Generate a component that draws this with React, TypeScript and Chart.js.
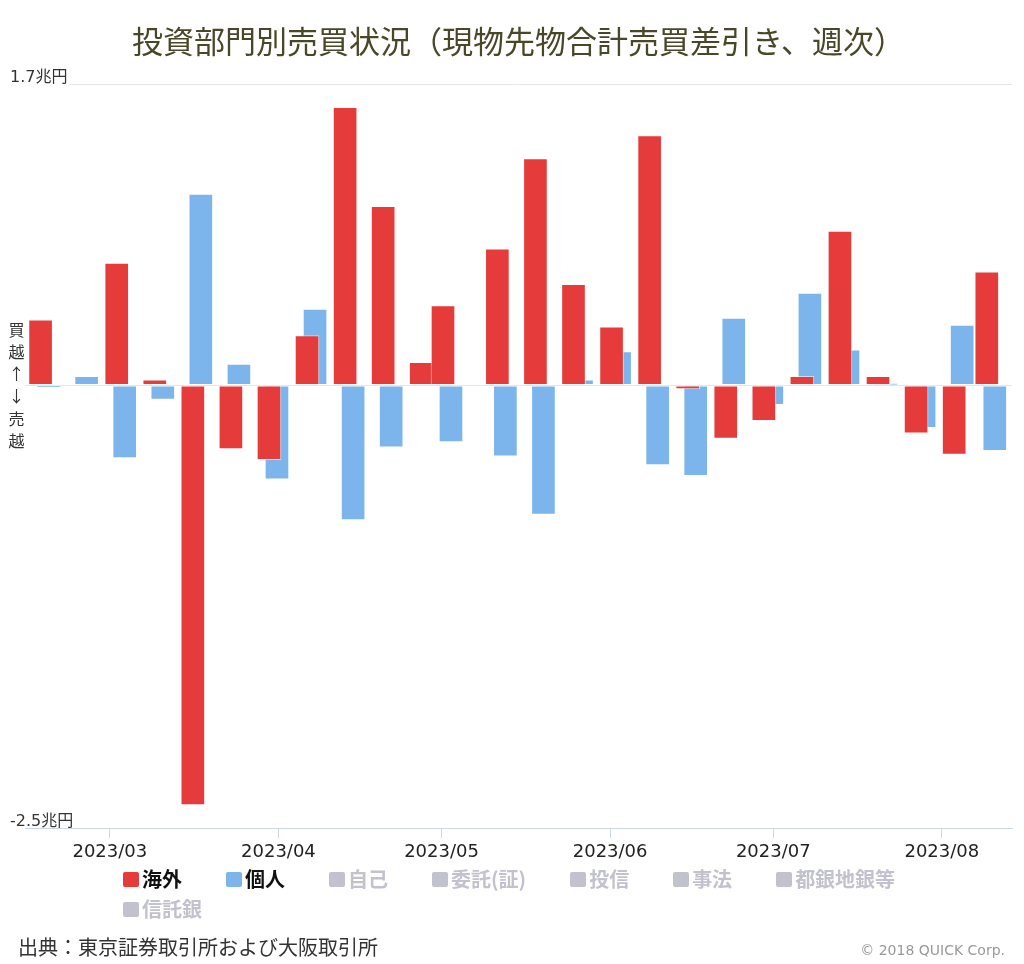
import React, { useEffect, useRef } from 'react';
import { Chart, registerables } from 'chart.js';

Chart.register(...registerables);

const TITLE = '投資部門別売買状況（現物先物合計売買差引き、週次）';

// Week-ending dates of the weekly data
const weekDates = [
  '2023-02-17', '2023-02-24', '2023-03-03', '2023-03-10', '2023-03-17', '2023-03-24',
  '2023-03-31', '2023-04-07', '2023-04-14', '2023-04-21', '2023-04-28', '2023-05-02',
  '2023-05-12', '2023-05-19', '2023-05-26', '2023-06-02', '2023-06-09', '2023-06-16',
  '2023-06-23', '2023-06-30', '2023-07-07', '2023-07-14', '2023-07-21', '2023-07-28',
  '2023-08-04', '2023-08-10',
];

// 海外 (foreign investors), trillion yen
const foreignNet = [
  0.37, 0.0, 0.69, 0.03, -2.37, -0.36,
  -0.42, 0.28, 1.57, 1.01, 0.13, 0.45,
  0.77, 1.28, 0.57, 0.33, 1.41, -0.02,
  -0.3, -0.2, 0.05, 0.87, 0.05, -0.27,
  -0.39, 0.64,
];

// 個人 (individuals), trillion yen
const individualNet = [
  -0.01, 0.05, -0.41, -0.08, 1.08, 0.12,
  -0.53, 0.43, -0.76, -0.35, 0.05, -0.32,
  -0.4, -0.73, 0.03, 0.19, -0.45, -0.51,
  0.38, -0.11, 0.52, 0.2, 0.01, -0.24,
  0.34, -0.37,
];

const monthTickDates = ['2023-03-01', '2023-04-01', '2023-05-01', '2023-06-01', '2023-07-01', '2023-08-01'];
const monthTickLabels = ['2023/03', '2023/04', '2023/05', '2023/06', '2023/07', '2023/08'];

const yTickValues = [-2.5, 0, 1.7];
const yTickLabels = ['-2.5兆円', '', '1.7兆円'];
const yAxisNote = ['買', '越', '↑', '↓', '売', '越'];

const seriesNames = ['海外', '個人', '自己', '委託(証)', '投信', '事法', '都銀地銀等', '信託銀'];
const seriesVisible = [true, true, false, false, false, false, false, false];

const SOURCE = '出典：東京証券取引所および大阪取引所';
const CREDIT = '© 2018 QUICK Corp.';

const RED = '#e63b3b';
const BLUE = '#7cb5ec';
const HIDDEN = '#c2c2cf';
const legendColors = [RED, BLUE];

const dayNum = (s: string) => Date.parse(s + 'T00:00:00Z') / 864e5;

const barShiftPlugin = {
  id: 'barShift',
  afterDatasetsUpdate(chart: any) {
    chart.data.datasets.forEach((ds: any, i: number) => {
      const meta = chart.getDatasetMeta(i);
      const s = ds.xShift || 0;
      meta.data.forEach((el: any) => {
        el.x += s;
      });
    });
  },
};

const axisTextPlugin = {
  id: 'axisText',
  afterDraw(chart: any) {
    const { ctx } = chart;
    const y = chart.scales.y;
    ctx.save();
    ctx.font = '16px "DejaVu Sans", "Noto Sans CJK JP"';
    ctx.textBaseline = 'middle';
    ctx.textAlign = 'left';
    yTickValues.forEach((v, i) => {
      const label = yTickLabels[i];
      if (!label) return;
      const py = y.getPixelForValue(v) - 6.5;
      const w = ctx.measureText(label).width;
      if (v !== y.min) {
        ctx.fillStyle = '#ffffff';
        ctx.fillRect(9, py - 9, w + 3, 17.5);
      }
      ctx.fillStyle = '#333333';
      ctx.fillText(label, 10, py);
    });
    ctx.font = '16px "Noto Sans CJK JP"';
    ctx.textAlign = 'center';
    ctx.fillStyle = '#333333';
    const zero = y.getPixelForValue(0);
    yAxisNote.forEach((ch, i) => {
      ctx.fillText(ch, 16.5, zero + (i - 2.5) * 22.3);
    });
    ctx.restore();
  },
};

export default function App() {
  const canvasRef = useRef<HTMLCanvasElement | null>(null);

  useEffect(() => {
    const canvas = canvasRef.current;
    if (!canvas) return;
    const d0 = dayNum('2023-03-01');
    const chart = new Chart(canvas, {
      type: 'bar',
      data: {
        datasets: [
          {
            label: seriesNames[0],
            data: weekDates.map((d, i) => ({ x: dayNum(d), y: foreignNet[i] })),
            backgroundColor: RED,
            borderColor: 'rgba(255,255,255,0.55)',
            borderWidth: 1,
            borderSkipped: false,
            barThickness: 24,
            grouped: false,
            xShift: -4,
          } as any,
          {
            label: seriesNames[1],
            data: weekDates.map((d, i) => ({ x: dayNum(d), y: individualNet[i] })),
            backgroundColor: BLUE,
            borderColor: 'rgba(255,255,255,0.55)',
            borderWidth: 1,
            borderSkipped: false,
            barThickness: 24,
            grouped: false,
            xShift: 4,
          } as any,
        ],
      },
      options: {
        responsive: false,
        animation: false,
        devicePixelRatio: 1,
        layout: { padding: { top: 0, left: 25, right: 12, bottom: 96.4 } },
        plugins: {
          legend: { display: false },
          tooltip: { enabled: false },
          title: {
            display: true,
            text: TITLE,
            color: '#484828',
            font: { family: '"Noto Sans CJK JP"', size: 31, weight: 'normal' },
            padding: { top: 23, bottom: 24 },
          },
        },
        scales: {
          x: {
            type: 'linear',
            offset: false,
            min: d0 - 15.6,
            max: d0 + 165.9,
            afterBuildTicks: (s: any) => {
              s.ticks = monthTickDates.map((d) => ({ value: dayNum(d) }));
            },
            ticks: {
              autoSkip: false,
              maxRotation: 0,
              padding: 4,
              color: '#222222',
              font: { family: '"DejaVu Sans"', size: 18 },
              callback: (_v: any, i: number) => monthTickLabels[i],
            },
            grid: { offset: false, drawOnChartArea: false, tickLength: 10, color: '#ccd6eb' },
            border: { color: '#ccd6eb', width: 1 },
          },
          y: {
            type: 'linear',
            min: -2.5,
            max: 1.7,
            afterBuildTicks: (s: any) => {
              s.ticks = yTickValues.map((v) => ({ value: v }));
            },
            ticks: { display: false },
            grid: {
              drawTicks: false,
              color: (ctx: any) => (ctx.tick && ctx.tick.value === -2.5 ? 'rgba(0,0,0,0)' : '#e6e6e6'),
            },
            border: { display: false },
          },
        },
      } as any,
      plugins: [barShiftPlugin, axisTextPlugin],
    });
    return () => chart.destroy();
  }, []);

  return (
    <div style={{ position: 'absolute', left: 0, top: 0, width: 1024, height: 964, background: '#fff', overflow: 'hidden' }}>
      <canvas ref={canvasRef} width={1024} height={964} style={{ position: 'absolute', left: 0, top: 0 }} />
      <div
        style={{
          position: 'absolute',
          left: 123,
          top: 864,
          width: 800,
          display: 'flex',
          flexWrap: 'wrap',
          columnGap: 44,
          fontFamily: '"Noto Sans CJK JP", sans-serif',
          fontWeight: 'bold',
          fontSize: 20,
          lineHeight: '30px',
        }}
      >
        {seriesNames.map((name, i) => {
          const on = seriesVisible[i];
          const c = on ? legendColors[i] : HIDDEN;
          return (
            <div key={name} style={{ display: 'flex', alignItems: 'center', color: on ? '#111' : HIDDEN, height: 30 }}>
              <span style={{ display: 'inline-block', width: 16, height: 15, background: c, borderRadius: 2, marginRight: 3 }} />
              <span>{name}</span>
            </div>
          );
        })}
      </div>
      <div
        style={{
          position: 'absolute',
          left: 18,
          top: 933,
          fontFamily: '"Noto Sans CJK JP", sans-serif',
          fontSize: 20,
          lineHeight: '28px',
          color: '#333',
          whiteSpace: 'nowrap',
        }}
      >
        {SOURCE}
      </div>
      <div
        style={{
          position: 'absolute',
          right: 19,
          top: 940,
          fontFamily: '"DejaVu Sans", sans-serif',
          fontSize: 14,
          lineHeight: '20px',
          color: '#999',
          whiteSpace: 'nowrap',
        }}
      >
        {CREDIT}
      </div>
    </div>
  );
}
